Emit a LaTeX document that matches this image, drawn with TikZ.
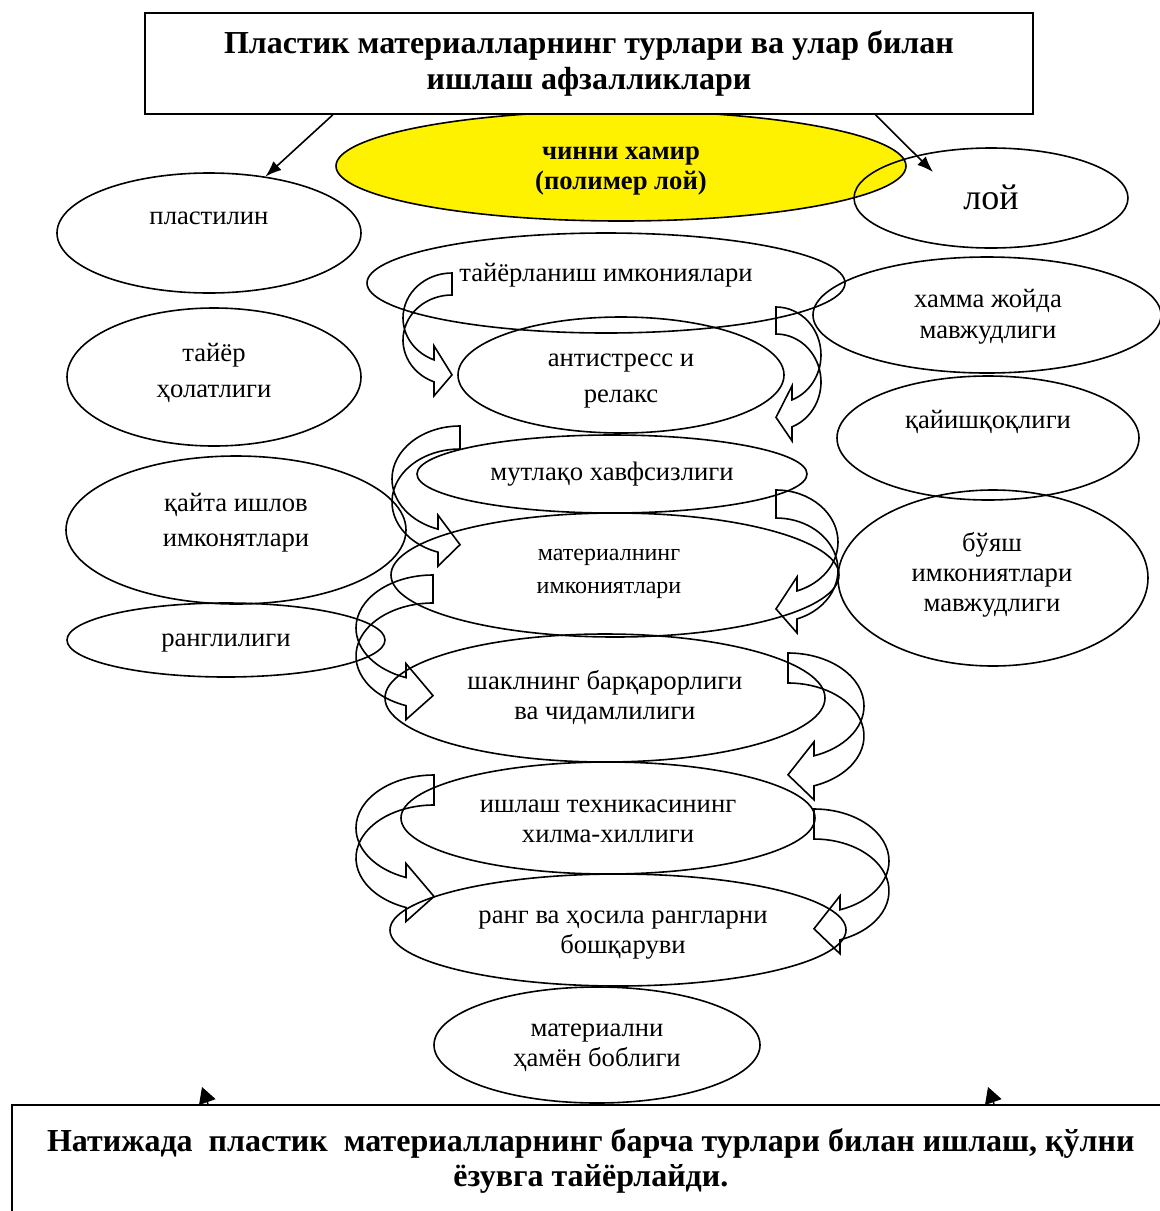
\documentclass[tikz,border=0pt]{standalone}
\usepackage{fontspec}
\setmainfont{Liberation Serif}
\usepackage{tikz}
\usetikzlibrary{shapes.geometric,arrows.meta,calc}

% curved block arrow: tail/tip x, top y, band, x radius, y radius, head length, side (-1 left, 1 right)
\newcommand{\curvarr}[7]{%
  \pgfmathsetmacro{\arrEnd}{#7<0 ? acos(-#6/#4) : 360+acos(#6/#4)}%
  \pgfmathsetmacro{\arrHx}{#1+(#7)*#6}%
  \pgfmathsetmacro{\arrHy}{#2+#5+#5*sin(\arrEnd)}%
  \draw [band] (#1,#2) arc [start angle=270, end angle=\arrEnd, x radius=#4, y radius=#5]
    -- (\arrHx,\arrHy-14) -- (#1,\arrHy+#3/2+4) -- (\arrHx,\arrHy+#3+14) -- (\arrHx,\arrHy+#3)
    arc [start angle=\arrEnd, end angle=270, x radius=#4, y radius=#5] -- cycle;
}

\begin{document}
\begin{tikzpicture}[x=0.75pt,y=0.75pt,yscale=-1,xscale=1,
  oval/.style 2 args={ellipse, draw, line width=1.2pt, inner sep=0pt, minimum width=#1*0.75pt, minimum height=#2*0.75pt},
  titlebox/.style={draw, line width=1.3pt, fill=white, inner sep=0pt, align=center, font=\bfseries\fontsize{24}{26.5}\selectfont},
  lbl/.style={font=\fontsize{20}{22.5}\selectfont, align=center, inner sep=0pt},
  lblw/.style={lbl, font=\fontsize{20}{26.5}\selectfont},
  band/.style={line width=1.2pt},
  arr/.style={line width=1.2pt, -{Latex[length=12pt,width=9pt]}},
  tiparr/.style={line width=1pt, -{Triangle[length=12pt,width=13pt]}}]
\useasboundingbox (0,0) rectangle (1160,1211);
\clip (0,0) rectangle (1160,1211);

%Shape: Ellipse
\node [oval={570}{110}, fill=yellow] (polim) at (621,166) {};
%Shape: Rectangle
\node [titlebox, minimum width=888*0.75pt, minimum height=101*0.75pt] (title) at (589,63.5)
  {Пластик материалларнинг турлари ва улар билан\\ишлаш афзалликлари};
%Shape: Ellipse
\node [oval={274}{100}] (loy) at (991,198) {};
\node [oval={304}{120}] (plast) at (209,233) {};
\node [oval={294}{138}] (tayyor) at (214,377) {};
\node [oval={340}{148}] (qayta) at (236,530) {};
\node [oval={318}{74}] (rangl) at (226,640) {};
\node [oval={478}{100}] (tayyorl) at (606,283) {};
\node [oval={326}{116}] (anti) at (621,375) {};
\node [oval={390}{78}] (mutl) at (612,474) {};
\node [oval={448}{124}] (mater) at (615,575) {};
\node [oval={440}{128}] (shakl) at (605,698) {};
\node [oval={414}{112}] (ishlash) at (608,818) {};
\node [oval={456}{112}] (rang) at (618,930) {};
\node [oval={326}{116}] (hamyon) at (597,1045) {};
\node [oval={348}{116}] (hamma) at (987,315) {};
\node [oval={302}{124}] (qayish) at (988,438) {};
\node [oval={310}{176}] (buyash) at (993,578) {};
%Shape: Rectangle
\node [titlebox, anchor=north west, minimum width=1158*0.75pt, minimum height=112*0.75pt] (res) at (11,1104)
  {Натижада~~пластик~~материалларнинг барча турлари билан ишлаш, қўлни\\ёзувга тайёрлайди.};

%Shape: Curved Arrows
\curvarr{452}{273}{22}{49}{45}{18}{-1}
\curvarr{776}{307}{27}{45}{48}{16}{1}
\curvarr{460}{426}{23}{68}{53}{22}{-1}
\curvarr{776}{490}{28}{62}{52}{21}{1}
\curvarr{433}{575}{28}{77}{53}{27}{-1}
\curvarr{788}{653}{30}{76}{53}{26}{1}
\curvarr{434}{775}{30}{78}{53}{28}{-1}
\curvarr{814}{809}{30}{75}{52}{26}{1}

% Text Node
\node [lbl, font=\bfseries\fontsize{20}{22.5}\selectfont] (polim-t) at (621,171) {чинни хамир\\(полимер лой)};
\node [lbl, font=\fontsize{27}{30}\selectfont] (loy-t) at (991,197) {лой};
\node [lbl] (plast-t) at (209,218) {пластилин};
\node [lblw] (tayyor-t) at (214,373) {тайёр\\ҳолатлиги};
\node [lblw] (qayta-t) at (236,523) {қайта ишлов\\имконятлари};
\node [lbl] (rangl-t) at (226,643) {ранглилиги};
\node [lbl] (tayyorl-t) at (606,275) {тайёрланиш имкониялари};
\node [lblw] (anti-t) at (621,381) {антистресс и\\релакс};
\node [lbl] (mutl-t) at (612,474) {мутлақо хавфсизлиги};
\node [lbl, font=\fontsize{18}{24.5}\selectfont] (mater-t) at (609,574) {материалнинг\\имкониятлари};
\node [lbl] (shakl-t) at (605,698) {шаклнинг барқарорлиги\\ва чидамлилиги};
\node [lbl] (ishlash-t) at (608,821) {ишлаш техникасининг\\хилма-хиллиги};
\node [lbl] (rang-t) at (623,935) {ранг ва ҳосила рангларни\\бошқаруви};
\node [lbl] (hamyon-t) at (597,1048) {материални\\ҳамён боблиги};
\node [lbl, font=\fontsize{20}{23.5}\selectfont] (hamma-t) at (988,317) {хамма жойда\\мавжудлиги};
\node [lbl] (qayish-t) at (988,422) {қайишқоқлиги};
\node [lbl] (buyash-t) at (992,575) {бўяш\\имкониятлари\\мавжудлиги};

%Straight Lines
\coordinate (loy-in) at (933,172);
\coordinate (tip-l) at (202,1087);
\coordinate (tip-r) at (988,1087);
\draw [arr] ($(title.south west)!0.212!(title.south east)$) -- (plast.45);
\draw [arr] ($(title.south west)!0.822!(title.south east)$) -- (loy-in);
\draw [tiparr] ($(res.north west)+(197,0)$) -- (tip-l);
\draw [tiparr] ($(res.north west)+(983,0)$) -- (tip-r);

\end{tikzpicture}
\end{document}
